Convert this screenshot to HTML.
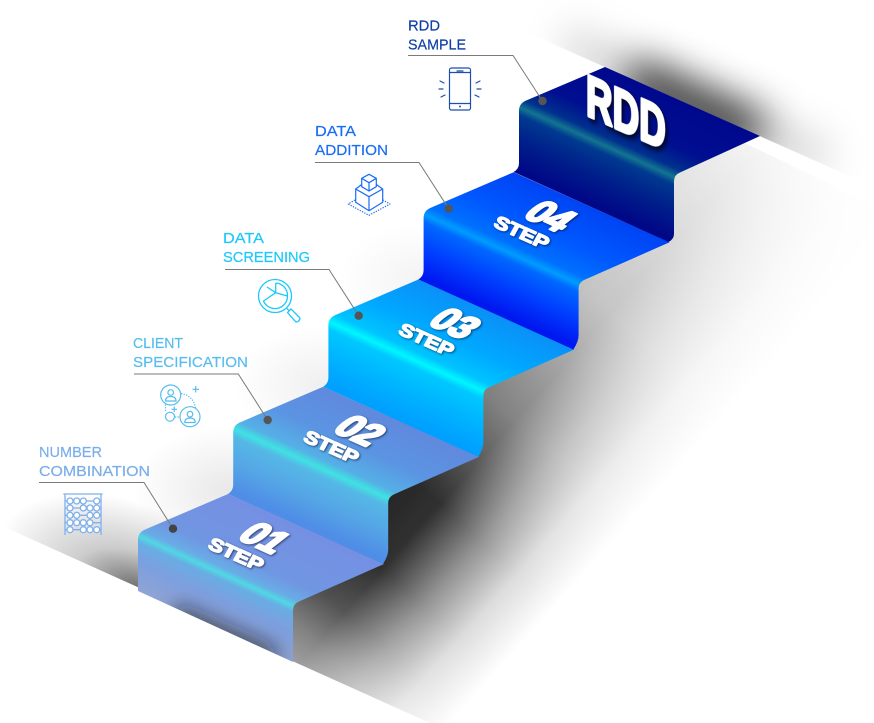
<!DOCTYPE html>
<html><head><meta charset="utf-8"><title>RDD Steps</title>
<style>
html,body{margin:0;padding:0;background:#fff}
svg{display:block}
.lb{font-family:"Liberation Sans",sans-serif;font-size:15px;stroke-width:.2}
.n{font-family:"Liberation Sans",sans-serif;font-weight:700;fill:#fff;stroke:#fff;stroke-linejoin:round;filter:drop-shadow(1px 1px 1px rgba(0,0,30,.55))}
</style></head><body>
<svg width="874" height="723" viewBox="0 0 874 723" xmlns="http://www.w3.org/2000/svg">
<defs>
<linearGradient id="g0" gradientUnits="userSpaceOnUse" x1="167.6" y1="467.4" x2="113.3" y2="587.7">
<stop offset="0" stop-color="#7590e3"/><stop offset=".4" stop-color="#7096e2"/><stop offset=".52" stop-color="#68ade6"/><stop offset=".565" stop-color="#50d8e2"/><stop offset=".61" stop-color="#68ade4"/><stop offset=".75" stop-color="#7d9fdf"/><stop offset="1" stop-color="#94a5d2"/></linearGradient>
<linearGradient id="g1" gradientUnits="userSpaceOnUse" x1="167.6" y1="467.4" x2="113.3" y2="587.7">
<stop offset="0" stop-color="#6089de"/><stop offset=".3" stop-color="#5b94e2"/><stop offset=".5" stop-color="#55b0e6"/><stop offset=".565" stop-color="#3fe2e2"/><stop offset=".62" stop-color="#55b8e6"/><stop offset=".8" stop-color="#55a6e6"/><stop offset="1" stop-color="#4f8de6"/></linearGradient>
<linearGradient id="g2" gradientUnits="userSpaceOnUse" x1="167.6" y1="467.4" x2="113.3" y2="587.7">
<stop offset="0" stop-color="#0a90f8"/><stop offset=".3" stop-color="#00a8ff"/><stop offset=".5" stop-color="#00c4ff"/><stop offset=".565" stop-color="#00f6ff"/><stop offset=".62" stop-color="#00c8ff"/><stop offset=".8" stop-color="#00b4ff"/><stop offset="1" stop-color="#00a0ff"/></linearGradient>
<linearGradient id="g3" gradientUnits="userSpaceOnUse" x1="167.6" y1="467.4" x2="113.3" y2="587.7">
<stop offset="0" stop-color="#0044f4"/><stop offset=".3" stop-color="#0058ff"/><stop offset=".5" stop-color="#0070ff"/><stop offset=".565" stop-color="#009cff"/><stop offset=".62" stop-color="#0068ff"/><stop offset=".8" stop-color="#0040ff"/><stop offset="1" stop-color="#0018f0"/></linearGradient>
<linearGradient id="g4" gradientUnits="userSpaceOnUse" x1="548.4" y1="38.4" x2="494.1" y2="158.7">
<stop offset="0" stop-color="#00088e"/><stop offset=".35" stop-color="#000e90"/><stop offset=".5" stop-color="#00308e"/><stop offset=".565" stop-color="#127590"/><stop offset=".62" stop-color="#003a90"/><stop offset=".8" stop-color="#001e8a"/><stop offset="1" stop-color="#000888"/></linearGradient>

<linearGradient id="perp" gradientUnits="userSpaceOnUse" x1="293" y1="604" x2="440" y2="735">
<stop offset="0" stop-color="#000" stop-opacity="1"/><stop offset=".22" stop-color="#000" stop-opacity=".95"/><stop offset=".5" stop-color="#000" stop-opacity=".5"/><stop offset=".75" stop-color="#000" stop-opacity=".16"/><stop offset="1" stop-color="#000" stop-opacity="0"/></linearGradient>
<linearGradient id="along" gradientUnits="userSpaceOnUse" x1="255" y1="647" x2="760" y2="78">
<stop offset="0" stop-color="#595959"/><stop offset=".058" stop-color="#808080"/><stop offset=".113" stop-color="#b3b3b3"/><stop offset=".188" stop-color="#d9d9d9"/><stop offset=".302" stop-color="#d9d9d9"/><stop offset=".452" stop-color="#808080"/><stop offset=".641" stop-color="#3c3c3c"/><stop offset=".83" stop-color="#1c1c1c"/><stop offset="1" stop-color="#000"/></linearGradient>
<mask id="alongMask" maskUnits="userSpaceOnUse" x="0" y="0" width="874" height="723"><rect width="874" height="723" fill="url(#along)"/></mask>
<clipPath id="under"><path d="M290,660 L290,600 L677,165 L745,143 L874,205 L874,723 L430,723 Z"/></clipPath>
<clipPath id="above"><path d="M470,7 L874,187 L874,0 L470,0 Z"/></clipPath>
<clipPath id="aboveFloor"><path d="M0,525 L874,919 L874,0 L0,0 Z"/></clipPath>
<clipPath id="s0clip"><path d="M138,540 Q138,533 144,530 L228,494 L384,564 L299,601.5 Q293,604 293,610 L293,662 L138,591 Z"/></clipPath>
<filter id="b20" filterUnits="userSpaceOnUse" x="0" y="0" width="874" height="723"><feGaussianBlur stdDeviation="20"/></filter>
<filter id="b9" filterUnits="userSpaceOnUse" x="0" y="0" width="874" height="723"><feGaussianBlur stdDeviation="10"/></filter>
<radialGradient id="rad"><stop offset="0" stop-color="#000" stop-opacity=".6"/><stop offset=".45" stop-color="#000" stop-opacity=".2"/><stop offset="1" stop-color="#000" stop-opacity="0"/></radialGradient>
<radialGradient id="rad2"><stop offset="0" stop-color="#000" stop-opacity=".09"/><stop offset="1" stop-color="#000" stop-opacity="0"/></radialGradient>
</defs>

<!-- shadows -->
<g clip-path="url(#aboveFloor)">
<ellipse cx="138" cy="592" rx="150" ry="85" transform="rotate(24.4 138 592)" fill="url(#rad)"/>
<ellipse cx="228" cy="490" rx="95" ry="65" fill="url(#rad2)"/>
<ellipse cx="323" cy="385" rx="90" ry="60" fill="url(#rad2)" opacity=".7"/>
<ellipse cx="418" cy="278" rx="80" ry="55" fill="url(#rad2)" opacity=".5"/>
</g>
<g clip-path="url(#under)"><rect width="874" height="723" fill="url(#perp)" mask="url(#alongMask)"/></g>
<g clip-path="url(#above)">
<path d="M628,78 L758,136" stroke="#000" stroke-width="40" stroke-opacity=".8" fill="none" filter="url(#b20)"/>
<path d="M565,42 L825,160" stroke="#000" stroke-width="28" stroke-opacity=".2" fill="none" filter="url(#b20)"/>
</g>

<!-- steps -->
<path d="M138,540 Q138,533 144,530 L228,494 L384,564 L299,601.5 Q293,604 293,610 L293,662 L138,591 Z" fill="url(#g0)"/>
<g clip-path="url(#s0clip)"><path d="M175,612 L275,657" stroke="#15151f" stroke-width="13" stroke-opacity=".9" fill="none" filter="url(#b9)"/></g>
<g transform="translate(95.2,-107.25)"><path d="M138,540 Q138,533 144,530 L228,494 L384,564 L299,601.5 Q293,604 293,610 L293,657 Q293,663 287.8,671.25 L132.8,601.25 Q138,598 138,592 Z" fill="url(#g1)"/></g>
<g transform="translate(190.4,-214.5)"><path d="M138,540 Q138,533 144,530 L228,494 L384,564 L299,601.5 Q293,604 293,610 L293,657 Q293,663 287.8,671.25 L132.8,601.25 Q138,598 138,592 Z" fill="url(#g2)"/></g>
<g transform="translate(285.6,-321.75)"><path d="M138,540 Q138,533 144,530 L228,494 L384,564 L299,601.5 Q293,604 293,610 L293,657 Q293,663 287.8,671.25 L132.8,601.25 Q138,598 138,592 Z" fill="url(#g3)"/></g>
<path d="M519,111 Q519,104 525,101 L605,67 L760,136 L680,172.5 Q674,175 674,181 L674,234 Q674,239 668.6,242 L513.6,172 Q519,169 519,163 Z" fill="url(#g4)"/>

<!-- step numbers -->
<g class="n">
<text transform="matrix(1.08,.486,-1.06,.82,236,538)" font-size="30" stroke-width="2.2">01</text>
<text transform="matrix(1.34,.6,-.58,1.06,207,548)" font-size="15" stroke-width="1.2">STEP</text>
<text transform="matrix(1.08,.486,-1.06,.82,331.2,430.75)" font-size="30" stroke-width="2.2">02</text>
<text transform="matrix(1.34,.6,-.58,1.06,302.2,440.75)" font-size="15" stroke-width="1.2">STEP</text>
<text transform="matrix(1.08,.486,-1.06,.82,426.4,323.5)" font-size="30" stroke-width="2.2">03</text>
<text transform="matrix(1.34,.6,-.58,1.06,397.4,333.5)" font-size="15" stroke-width="1.2">STEP</text>
<text transform="matrix(1.08,.486,-1.06,.82,521.6,216.25)" font-size="30" stroke-width="2.2">04</text>
<text transform="matrix(1.34,.6,-.58,1.06,492.6,226.25)" font-size="15" stroke-width="1.2">STEP</text>
</g>
<text transform="matrix(.92,.405,0,1.45,586,115)" font-family="Liberation Sans,sans-serif" font-weight="700" font-size="40" fill="#fff" stroke="#fff" stroke-width="2.4" stroke-linejoin="round" style="filter:drop-shadow(2px 2px 2px rgba(0,0,0,.8))">RDD</text>

<!-- leaders -->
<g fill="none" stroke="#7a7a7a" stroke-width="1">
<path d="M408,55.5 H513 L542.5,101"/>
<path d="M315,162.5 H419 L448.7,208.7"/>
<path d="M225,269.5 H329 L358.7,315.7"/>
<path d="M134,374 H238.3 L267.7,420"/>
<path d="M39,482.5 H144 L173,528.7"/>
</g>
<g fill="#555">
<circle cx="542.5" cy="101" r="4.2"/><circle cx="448.7" cy="208.7" r="4.2"/><circle cx="358.7" cy="315.7" r="4.2"/><circle cx="267.7" cy="420" r="4.2"/>
<circle cx="173" cy="528.7" r="4.2" fill="#444"/>
</g>

<!-- labels -->
<g class="lb">
<text x="408" y="30.5" fill="#0f3fa6" stroke="#0f3fa6" textLength="32" lengthAdjust="spacingAndGlyphs">RDD</text>
<text x="408" y="49.5" fill="#0f3fa6" stroke="#0f3fa6" textLength="58" lengthAdjust="spacingAndGlyphs">SAMPLE</text>
<text x="315" y="136" fill="#1a6cf5" stroke="#1a6cf5" textLength="41" lengthAdjust="spacingAndGlyphs">DATA</text>
<text x="315" y="155" fill="#1a6cf5" stroke="#1a6cf5" textLength="73" lengthAdjust="spacingAndGlyphs">ADDITION</text>
<text x="223" y="243" fill="#1cc8fb" stroke="#1cc8fb" textLength="41" lengthAdjust="spacingAndGlyphs">DATA</text>
<text x="223" y="262" fill="#1cc8fb" stroke="#1cc8fb" textLength="87" lengthAdjust="spacingAndGlyphs">SCREENING</text>
<text x="133" y="348" fill="#57bdee" stroke="#57bdee" textLength="50" lengthAdjust="spacingAndGlyphs">CLIENT</text>
<text x="133" y="367" fill="#57bdee" stroke="#57bdee" textLength="115" lengthAdjust="spacingAndGlyphs">SPECIFICATION</text>
<text x="39" y="457" fill="#7aaeea" stroke="#7aaeea" textLength="63" lengthAdjust="spacingAndGlyphs">NUMBER</text>
<text x="39" y="476" fill="#7aaeea" stroke="#7aaeea" textLength="111" lengthAdjust="spacingAndGlyphs">COMBINATION</text>
</g>

<!-- phone icon -->
<g fill="none" stroke="#1b4fb0" stroke-width="1.2" stroke-linecap="round">
<rect x="449.5" y="68" width="21" height="42" rx="2"/>
<path d="M449.5,72.5 H470.5 M449.5,103.5 H470.5 M457,71 H463"/>
<circle cx="460" cy="106.5" r=".4"/>
<path d="M440,81 L444,83 M439,89 H443 M441,97 L445,95 M480,81 L476,83 M481,89 H477 M479,97 L475,95"/>
</g>
<!-- cube icon -->
<g fill="none" stroke="#1a6cf5" stroke-width="1.2" stroke-linejoin="round">
<path d="M369,174.3 L376.3,178.3 L376.3,186.7 L369,191 L361.7,186.7 L361.7,178.3 Z M361.7,178.3 L369,182.7 L376.3,178.3 M369,182.7 V191"/>
<path d="M361.7,184.5 L355.7,189 L369,196.7 L382.7,189 L376.3,184.5 M355.7,189 V202.3 L369,210.7 L382.7,202.3 V189 M369,196.7 V210.7"/>
<path d="M355,200 L348.3,204 L369,215.3 L390,204 L383,200" stroke-dasharray="1.3 1.3"/>
</g>
<!-- magnifier icon -->
<g fill="none" stroke="#1cc8fb" stroke-width="1.3" stroke-linejoin="round">
<circle cx="275" cy="296" r="16.5"/>
<path d="M275.7,283 V292.7 L287.5,296 A12.5,12.5 0 0 1 263.5,301 L275.7,292.7 M267,287 L275.7,292.7 M275.7,283 A12.5,12.5 0 0 1 287.5,296"/>
<path d="M286.7,308.3 L289.5,311"/>
<path d="M287.5,312.5 L291,309 L299.5,317.5 Q300.5,319 299,320.5 L298,321.5 Q296.5,322.5 295,321 Z"/>
</g>
<!-- client icon -->
<g fill="none" stroke="#57bdee" stroke-width="1.2">
<circle cx="170.7" cy="395" r="10"/><circle cx="190" cy="416.7" r="10"/><circle cx="170" cy="416.7" r="4.5"/>
<circle cx="170.7" cy="392.5" r="2.8"/><path d="M165.5,401 Q165.5,396.5 170.7,396.5 Q176,396.5 176,401 Z"/>
<circle cx="190" cy="414.2" r="2.8"/><path d="M184.8,422.5 Q184.8,418 190,418 Q195.2,418 195.2,422.5 Z"/>
<path d="M195.7,386 V392.5 M192.5,389.3 H199 M174.3,406.5 V412 M171.5,409.3 H177"/>
<path d="M181,393.5 Q194,396 195.5,408.5 M165.5,404.5 V411 M175,417 H180" stroke-dasharray="1.3 1.3"/>
</g>
<!-- abacus icon -->
<g fill="none" stroke="#7fb0ec" stroke-width="1.3">
<path d="M63.3,494 H102.7 M65,494 V535 M101,494 V535"/>
<path d="M65,501 H101 M65,508 H101 M65,515.3 H101 M65,522.7 H101 M65,529.7 H101"/>
<g fill="#fff">
<circle cx="70" cy="501" r="3"/><circle cx="76.7" cy="501" r="3"/><circle cx="83.3" cy="501" r="3"/><circle cx="96.7" cy="501" r="3"/>
<circle cx="70" cy="508" r="3"/><circle cx="83.3" cy="508" r="3"/><circle cx="90" cy="508" r="3"/><circle cx="96.7" cy="508" r="3"/>
<circle cx="70" cy="515.3" r="3"/><circle cx="76.7" cy="515.3" r="3"/><circle cx="90" cy="515.3" r="3"/><circle cx="96.7" cy="515.3" r="3"/>
<circle cx="70" cy="522.7" r="3"/><circle cx="76.7" cy="522.7" r="3"/><circle cx="83.3" cy="522.7" r="3"/><circle cx="90" cy="522.7" r="3"/>
<circle cx="70" cy="529.7" r="3"/><circle cx="83.3" cy="529.7" r="3"/><circle cx="90" cy="529.7" r="3"/><circle cx="96.7" cy="529.7" r="3"/>
</g>
</g>
</svg>
</body></html>
